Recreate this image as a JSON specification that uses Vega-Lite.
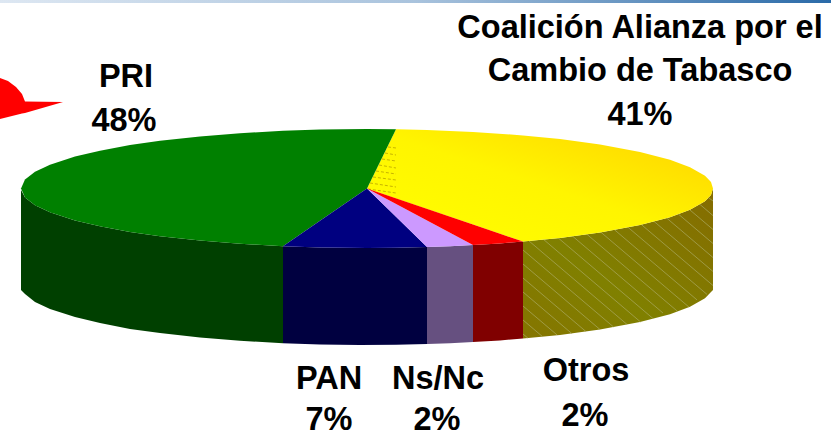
{"$schema":"https://vega.github.io/schema/vega-lite/v6.json","width":831,"height":436,"autosize":{"type":"none"},"padding":0,"background":"white","view":{"stroke":null},
"resolve":{"scale":{"color":"independent"}},
"datasets":{
"walls":[
{"part":"PRI","x":21,"y":190,"y2":290},{"part":"PRI","x":25,"y":197.5,"y2":294},{"part":"PRI","x":35,"y":205.3,"y2":302},{"part":"PRI","x":50,"y":212.3,"y2":309},{"part":"PRI","x":75,"y":220.4,"y2":317},{"part":"PRI","x":100,"y":226.3,"y2":323},{"part":"PRI","x":130,"y":231.9,"y2":329},{"part":"PRI","x":160,"y":236.2,"y2":333},{"part":"PRI","x":200,"y":240.6,"y2":337.6},{"part":"PRI","x":240,"y":243.8,"y2":340.8},{"part":"PRI","x":283,"y":246.2,"y2":343.2},
{"part":"PAN","x":283,"y":246.2,"y2":343.2},{"part":"PAN","x":320,"y":247.4,"y2":344.4},{"part":"PAN","x":360,"y":248,"y2":345},{"part":"PAN","x":396,"y":247.8,"y2":344.8},{"part":"PAN","x":427,"y":247.1,"y2":344.1},
{"part":"Ns/Nc","x":427,"y":247.1,"y2":344.1},{"part":"Ns/Nc","x":450,"y":246.3,"y2":343.3},{"part":"Ns/Nc","x":473,"y":245.1,"y2":342.1},
{"part":"Otros","x":473,"y":245.1,"y2":342.1},{"part":"Otros","x":500,"y":243.4,"y2":340.4},{"part":"Otros","x":523,"y":241.6,"y2":338.6}],
"wallYellow":[
{"x":523,"y":241.6,"y2":338.6},{"x":560,"y":237.9,"y2":334.9},{"x":600,"y":232.5,"y2":329.5},{"x":640,"y":225.1,"y2":322.1},{"x":670,"y":217.2,"y2":314.2},{"x":690,"y":209.8,"y2":306.8},{"x":705,"y":201.2,"y2":298.2},{"x":711,"y":194.9,"y2":292},{"x":713,"y":188.5,"y2":290}],
"tops":[
{"part":"PRI","x":21,"y":188.5,"y2":188.5},{"part":"PRI","x":25,"y":179.5,"y2":197.5},{"part":"PRI","x":35,"y":171.7,"y2":205.3},{"part":"PRI","x":50,"y":164.7,"y2":212.3},{"part":"PRI","x":75,"y":156.6,"y2":220.4},{"part":"PRI","x":100,"y":150.7,"y2":226.3},{"part":"PRI","x":130,"y":145.1,"y2":231.9},{"part":"PRI","x":160,"y":140.8,"y2":236.2},{"part":"PRI","x":200,"y":136.4,"y2":240.6},{"part":"PRI","x":240,"y":133.2,"y2":243.8},{"part":"PRI","x":283,"y":130.8,"y2":246.2},{"part":"PRI","x":320,"y":129.6,"y2":220.8},{"part":"PRI","x":367,"y":129,"y2":188.5},{"part":"PRI","x":396,"y":129.2,"y2":129.2},
{"part":"PAN","x":283,"y":246.2,"y2":246.2},{"part":"PAN","x":320,"y":220.8,"y2":247.4},{"part":"PAN","x":367,"y":188.5,"y2":248},{"part":"PAN","x":396,"y":216.8,"y2":247.8},{"part":"PAN","x":427,"y":247.1,"y2":247.1},
{"part":"Ns/Nc","x":367,"y":188.5,"y2":188.5},{"part":"Ns/Nc","x":427,"y":220.5,"y2":247.1},{"part":"Ns/Nc","x":450,"y":232.8,"y2":246.3},{"part":"Ns/Nc","x":473,"y":245.1,"y2":245.1},
{"part":"Otros","x":367,"y":188.5,"y2":188.5},{"part":"Otros","x":473,"y":224.6,"y2":245.1},{"part":"Otros","x":500,"y":233.8,"y2":243.4},{"part":"Otros","x":523,"y":241.6,"y2":241.6}],
"topYellow":[
{"x":367,"y":188.5,"y2":188.5},{"x":396,"y":129.2,"y2":198.4},{"x":427,"y":129.9,"y2":208.9},{"x":473,"y":131.9,"y2":224.6},{"x":523,"y":135.4,"y2":241.6},{"x":560,"y":139.1,"y2":237.9},{"x":600,"y":144.5,"y2":232.5},{"x":640,"y":151.9,"y2":225.1},{"x":670,"y":159.8,"y2":217.2},{"x":690,"y":167.2,"y2":209.8},{"x":705,"y":175.8,"y2":201.2},{"x":711,"y":182.1,"y2":194.9},{"x":713,"y":188.5,"y2":188.5}],
"hatch":[
{"x":707.7,"y":197,"x2":713,"y2":201},{"x":699.7,"y":204.2,"x2":713,"y2":215.6},{"x":690,"y":210,"x2":713,"y2":229.5},{"x":678.4,"y":214.1,"x2":713,"y2":243.5},{"x":666.6,"y":218,"x2":713,"y2":257.5},{"x":654,"y":221.4,"x2":713,"y2":271.5},{"x":641.4,"y":224.6,"x2":713,"y2":285.5},{"x":628,"y":227.3,"x2":707,"y2":294.4},{"x":614.5,"y":229.8,"x2":697,"y2":299.9},{"x":601,"y":232.3,"x2":689,"y2":307.1},{"x":586.8,"y":234.2,"x2":677,"y2":310.9},{"x":572.6,"y":236.2,"x2":663,"y2":313},{"x":558.3,"y":238,"x2":653,"y2":318.5},{"x":543.6,"y":239.5,"x2":640.6,"y2":322},{"x":528.9,"y":240.9,"x2":627,"y2":324.4},{"x":523,"y":250,"x2":613.6,"y2":327},{"x":523,"y":264,"x2":600,"y2":329.5},{"x":523,"y":278,"x2":586,"y2":331.6},{"x":523,"y":292,"x2":572,"y2":333.7},{"x":523,"y":306,"x2":557,"y2":334.9},{"x":523,"y":320,"x2":542.5,"y2":336.6},{"x":523,"y":334,"x2":528,"y2":338.2}],
"dashes":[{"x":388,"y":147,"x2":396,"y2":148},{"x":385,"y":153,"x2":396,"y2":155},{"x":382,"y":159,"x2":396,"y2":161},{"x":379,"y":165,"x2":396,"y2":168},{"x":376,"y":171,"x2":396,"y2":174},{"x":373,"y":177,"x2":396,"y2":180},{"x":370,"y":183,"x2":396,"y2":187},{"x":368,"y":189,"x2":396,"y2":193}],
"spike":[{"x":0,"y":78,"y2":119},{"x":8,"y":81,"y2":117},{"x":16,"y":87,"y2":115},{"x":22,"y":94,"y2":113.5},{"x":25,"y":101.5,"y2":113},{"x":63,"y":102,"y2":102}],
"band":[{"a":0,"b":831,"c":0,"d":3}],
"labels":[
{"t":"Coalición Alianza por el","x":640,"y":38},{"t":"Cambio de Tabasco","x":640,"y":81},{"t":"41%","x":640,"y":125},
{"t":"PRI","x":126,"y":87},{"t":"48%","x":124,"y":131},
{"t":"PAN","x":329,"y":389},{"t":"7%","x":329,"y":429.5},
{"t":"Ns/Nc","x":438,"y":389},{"t":"2%","x":437,"y":429.5},
{"t":"Otros","x":586,"y":381},{"t":"2%","x":585,"y":426}]
},
"encoding":{
"x":{"field":"x","type":"quantitative","axis":null,"scale":{"domain":[0,831],"nice":false,"zero":false}},
"y":{"field":"y","type":"quantitative","axis":null,"scale":{"domain":[436,0],"nice":false,"zero":false}}
},
"layer":[
{"data":{"name":"walls"},"mark":{"type":"area","orient":"vertical"},"encoding":{"y2":{"field":"y2"},"color":{"field":"part","type":"nominal","legend":null,"scale":{"domain":["PRI","PAN","Ns/Nc","Otros"],"range":["#004000","#000040","#665080","#800000"]}}}},
{"data":{"name":"wallYellow"},"mark":{"type":"area","orient":"vertical","color":{"gradient":"linear","x1":1,"y1":0,"x2":0,"y2":1,"stops":[{"offset":0,"color":"#856C00"},{"offset":0.6,"color":"#808000"},{"offset":1,"color":"#857500"}]}},"encoding":{"y2":{"field":"y2"}}},
{"data":{"name":"hatch"},"mark":{"type":"rule","color":"#ABAB62","strokeWidth":0.7},"encoding":{"x2":{"field":"x2"},"y2":{"field":"y2"}}},
{"data":{"name":"topYellow"},"mark":{"type":"area","orient":"vertical","color":{"gradient":"linear","x1":0,"y1":1,"x2":1,"y2":0,"stops":[{"offset":0,"color":"#FFFF00"},{"offset":0.5,"color":"#FFF500"},{"offset":1,"color":"#FFD000"}]}},"encoding":{"y2":{"field":"y2"}}},
{"data":{"name":"dashes"},"mark":{"type":"rule","color":"#C8B400","strokeWidth":1,"strokeDash":[3,2]},"encoding":{"x2":{"field":"x2"},"y2":{"field":"y2"}}},
{"data":{"name":"tops"},"mark":{"type":"area","orient":"vertical"},"encoding":{"y2":{"field":"y2"},"color":{"field":"part","type":"nominal","legend":null,"scale":{"domain":["PRI","PAN","Ns/Nc","Otros"],"range":["#008000","#000080","#CC99FF","#FF0000"]}}}},
{"data":{"name":"spike"},"mark":{"type":"area","orient":"vertical","color":"#FF0000"},"encoding":{"y2":{"field":"y2"}}},
{"data":{"name":"band"},"mark":{"type":"rect","color":{"gradient":"linear","x1":0,"y1":0,"x2":1,"y2":0,"stops":[{"offset":0,"color":"#DDE7F2"},{"offset":0.5,"color":"#A9C3DD"},{"offset":1,"color":"#2A6AA8"}]}},"encoding":{"x":{"field":"a","type":"quantitative"},"x2":{"field":"b"},"y":{"field":"c","type":"quantitative"},"y2":{"field":"d"}}},
{"data":{"name":"labels"},"mark":{"type":"text","font":"Liberation Sans","fontWeight":"bold","fontSize":32.5,"color":"#000000","align":"center","baseline":"alphabetic"},"encoding":{"text":{"field":"t"}}}
]}
